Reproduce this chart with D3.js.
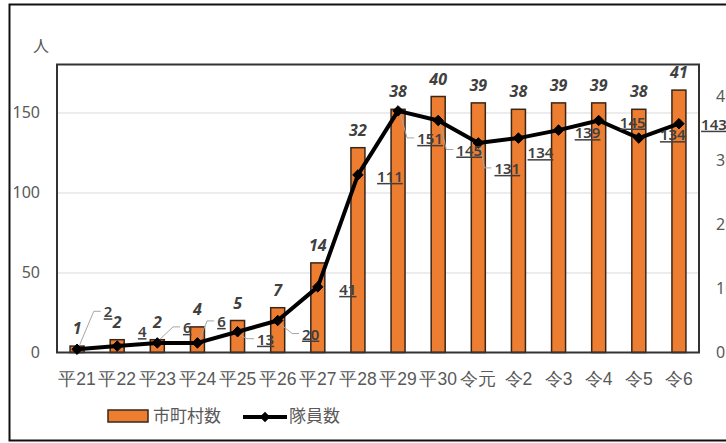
<!DOCTYPE html>
<html>
<head>
<meta charset="utf-8">
<script src="https://cdn.jsdelivr.net/npm/d3@7"></script>
<style>
  body { margin: 0; background: #fff; }
  svg { display: block; font-family: "Noto Sans CJK JP", "Noto Sans", sans-serif; }
</style>
</head>
<body>
<svg id="chart" width="726" height="443"></svg>
<script>
// data
var years = ["平21","平22","平23","平24","平25","平26","平27","平28","平29","平30","令元","令2","令3","令4","令5","令6"];
var towns = [1, 2, 2, 4, 5, 7, 14, 32, 38, 40, 39, 38, 39, 39, 38, 41];      // 市町村数 (right axis)
var members = [2, 4, 6, 6, 13, 20, 41, 111, 151, 145, 131, 134, 139, 145, 134, 143]; // 隊員数 (left axis)
var leftTicks = [0, 50, 100, 150];
var rightTicks = [0, 10, 20, 30, 40];

// where the member labels were dragged to (offset from the point)
var memDx = [31, 25, 30, 24, 28, 33, 30, 32, 32, 31, 29, 22, 29, 34, 34, 35];
var memDy = [-32, -9, -10, -16, 13, 19, 8, 7, 33, 35, 31, 20, 8, 7, 2, 6];

var svg = d3.select("#chart");
var pL = 57, pR = 699, pT = 64.5, pB = 352.5;

// outer frame
svg.append("rect")
  .attr("x", 9.5).attr("y", 4.5)
  .attr("width", 760).attr("height", 436)
  .attr("fill", "none").attr("stroke", "#111").attr("stroke-width", 2);

var x = d3.scaleBand().domain(years).range([pL, pR]).padding(0);
var yL = d3.scaleLinear().domain([0, 180]).range([pB, pT]);
var yR = d3.scaleLinear().domain([0, 45]).range([pB, pT]);
var cx = function(d) { return x(d) + x.bandwidth() / 2; };

// grid
svg.append("g")
  .attr("transform", "translate(" + pL + ",0)")
  .call(d3.axisLeft(yL).tickValues([50, 100, 150]).tickSize(-(pR - pL)).tickFormat(""))
  .call(function(g) { g.select(".domain").remove(); })
  .selectAll("line").attr("stroke", "#d9d9d9").attr("stroke-width", 1.2);

// left axis
svg.append("g")
  .attr("transform", "translate(" + (pL - 17) + ",0)")
  .call(d3.axisLeft(yL).tickValues(leftTicks).tickSize(0).tickPadding(0))
  .call(function(g) { g.select(".domain").remove(); })
  .selectAll("text")
    .attr("font-size", 16).attr("fill", "#595959")
    .attr("font-family", "Noto Sans, sans-serif");

svg.append("text")
  .attr("x", 41).attr("y", 52)
  .attr("text-anchor", "middle")
  .attr("font-size", 16).attr("fill", "#595959")
  .text("人");

// right axis (runs off the picture edge, as in the original)
svg.append("g")
  .attr("transform", "translate(" + (pR + 17) + ",0)")
  .call(d3.axisRight(yR).tickValues(rightTicks).tickSize(0).tickPadding(0))
  .call(function(g) { g.select(".domain").remove(); })
  .selectAll("text")
    .attr("font-size", 16).attr("fill", "#595959")
    .attr("font-family", "Noto Sans, sans-serif");

// x axis labels
svg.append("g")
  .attr("transform", "translate(0," + pB + ")")
  .call(d3.axisBottom(x).tickSize(0).tickPadding(0))
  .call(function(g) { g.select(".domain").remove(); })
  .selectAll("text")
    .attr("y", 32).attr("dy", 0)
    .attr("font-size", 17.5).attr("fill", "#595959");

// bars
var bw = 14;
svg.append("g").selectAll("rect")
  .data(towns)
  .enter().append("rect")
    .attr("x", function(d, i) { return cx(years[i]) - bw / 2; })
    .attr("y", function(d) { return yR(d); })
    .attr("width", bw)
    .attr("height", function(d) { return pB - yR(d); })
    .attr("fill", "#ED7D31")
    .attr("stroke", "#3a2618").attr("stroke-width", 1.5);

// plot border
svg.append("rect")
  .attr("x", pL).attr("y", pT)
  .attr("width", pR - pL).attr("height", pB - pT)
  .attr("fill", "none").attr("stroke", "#333").attr("stroke-width", 2);

// bar labels
svg.append("g").selectAll("text")
  .data(towns)
  .enter().append("text")
    .attr("x", function(d, i) { return cx(years[i]); })
    .attr("y", function(d) { return yR(d) - 12; })
    .attr("text-anchor", "middle")
    .attr("font-family", "Noto Sans, sans-serif")
    .attr("font-style", "italic").attr("font-weight", "bold")
    .attr("font-size", 16).attr("fill", "#404040")
    .text(function(d) { return d; });

// leader lines for moved labels
var leaders = svg.append("g");
members.forEach(function(v, i) {
  if (Math.abs(memDy[i]) < 10 || i === 11) return;
  var px = cx(years[i]), py = yL(v);
  var w = String(v).length * 8.6;
  var lx = px + memDx[i] - w / 2 - 3;
  var ly = py + memDy[i] - 6;
  leaders.append("path")
    .attr("d", d3.line()([[px + 2, py + (memDy[i] < 0 ? -3 : 3)], [lx - 7, ly], [lx, ly]]))
    .attr("fill", "none").attr("stroke", "#a6a6a6").attr("stroke-width", 1);
});

// member line
svg.append("path")
  .datum(members)
  .attr("d", d3.line()
    .x(function(d, i) { return cx(years[i]); })
    .y(function(d) { return yL(d); }))
  .attr("fill", "none").attr("stroke", "#000").attr("stroke-width", 4)
  .attr("stroke-linejoin", "round");

svg.append("g").selectAll("path")
  .data(members)
  .enter().append("path")
    .attr("transform", function(d, i) { return "translate(" + cx(years[i]) + "," + yL(d) + ")"; })
    .attr("d", d3.symbol().type(d3.symbolDiamond2).size(70))
    .attr("fill", "#000").attr("stroke", "#000").attr("stroke-width", 1);

// member labels
svg.append("g").selectAll("text")
  .data(members)
  .enter().append("text")
    .attr("x", function(d, i) { return cx(years[i]) + memDx[i]; })
    .attr("y", function(d, i) { return yL(d) + memDy[i]; })
    .attr("text-anchor", "middle")
    .attr("font-family", "Noto Sans, sans-serif")
    .attr("font-weight", 600)
    .attr("text-decoration", "underline")
    .attr("font-size", 15).attr("fill", "#404040")
    .text(function(d) { return d; });

// legend
var lg = svg.append("g");
lg.append("rect")
  .attr("x", 108).attr("y", 410).attr("width", 40).attr("height", 12)
  .attr("fill", "#ED7D31").attr("stroke", "#3a2618").attr("stroke-width", 1.5);
lg.append("text")
  .attr("x", 153).attr("y", 422)
  .attr("font-size", 17).attr("fill", "#595959")
  .text("市町村数");
lg.append("line")
  .attr("x1", 243).attr("x2", 287).attr("y1", 417).attr("y2", 417)
  .attr("stroke", "#000").attr("stroke-width", 4);
lg.append("path")
  .attr("transform", "translate(265,417)")
  .attr("d", d3.symbol().type(d3.symbolDiamond2).size(70))
  .attr("fill", "#000");
lg.append("text")
  .attr("x", 289).attr("y", 422)
  .attr("font-size", 17).attr("fill", "#595959")
  .text("隊員数");
</script>
</body>
</html>
